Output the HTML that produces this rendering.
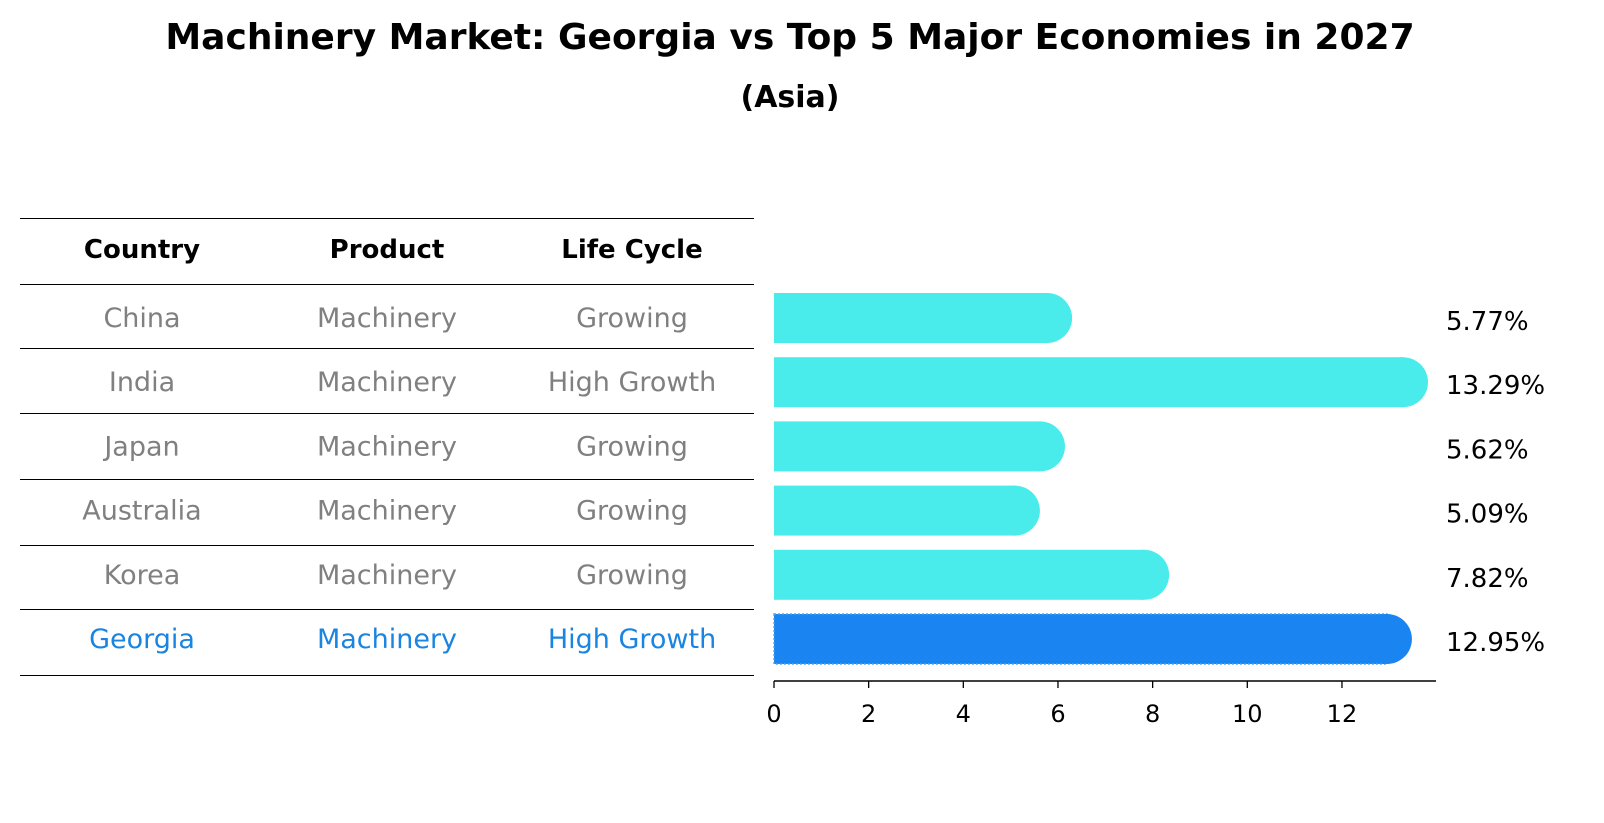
<!DOCTYPE html>
<html><head><meta charset="utf-8"><style>
body{margin:0;background:#fff;}
svg{display:block;font-family:"DejaVu Sans","Liberation Sans",sans-serif;}
</style></head><body>
<svg id="chart" width="1604" height="823" viewBox="0 0 1604 823">
<text x="790" y="49" text-anchor="middle" font-size="36" font-weight="bold">Machinery Market: Georgia vs Top 5 Major Economies in 2027</text>
<text x="790" y="107" text-anchor="middle" font-size="30" font-weight="bold">(Asia)</text>
<g id="table"></g>
<g id="bars"></g>
<g id="axis"></g>
</svg>
<script>
const countries=["China","India","Japan","Australia","Korea","Georgia"];
const products=["Machinery","Machinery","Machinery","Machinery","Machinery","Machinery"];
const lifeCycles=["Growing","High Growth","Growing","Growing","Growing","High Growth"];
const values=[5.77,13.29,5.62,5.09,7.82,12.95];
const ticks=[0,2,4,6,8,10,12];
const NS="http://www.w3.org/2000/svg";
function mk(t,a,p){const e=document.createElementNS(NS,t);for(const k in a)e.setAttribute(k,a[k]);p.appendChild(e);return e;}
const x=v=>774+v*47.33;
const rowY=i=>318+i*64.2;
const table=document.getElementById('table');
const lines=[218,284,348,413,479,545,609,675];
lines.forEach(y=>{const l=mk('line',{x1:20,x2:754,y1:y+0.5,y2:y+0.5,stroke:'#000','stroke-width':1},table);

});
const cols=[142,387,632];
["Country","Product","Life Cycle"].forEach((h,j)=>{const t=mk('text',{x:cols[j],y:258,'text-anchor':'middle','font-size':26,'font-weight':'bold'},table);t.textContent=h;

});
countries.forEach((c,i)=>{const col=c==="Georgia"?'#1a85e0':'#808080';
[c,products[i],lifeCycles[i]].forEach((v,j)=>{const t=mk('text',{x:cols[j],y:rowY(i)+9,'text-anchor':'middle','font-size':27,fill:col},table);t.textContent=v;

});});
const bars=document.getElementById('bars');
values.forEach((v,i)=>{const g=countries[i]==="Georgia";const col=g?'#1a85f0':'#4aeceb';const cy=rowY(i);const h=50;
const r=mk('rect',{x:x(0),y:cy-h/2,width:x(v)-x(0),height:h,fill:col},bars);
if(g){r.setAttribute('stroke','#4aa6f5');r.setAttribute('stroke-width','1.5');r.setAttribute('stroke-dasharray','2 2');}


const c=mk('circle',{cx:x(v),cy:cy,r:h/2,fill:col},bars);


const t=mk('text',{x:1446,y:cy+12,'font-size':26},bars);t.textContent=v.toFixed(2)+'%';

});
const axis=document.getElementById('axis');
const al=mk('line',{x1:774,x2:1436,y1:681,y2:681,stroke:'#000','stroke-width':1.5},axis);


ticks.forEach(v=>{const l=mk('line',{x1:x(v),x2:x(v),y1:681,y2:688,stroke:'#000','stroke-width':1.3},axis);


const t=mk('text',{x:x(v),y:722,'text-anchor':'middle','font-size':24},axis);t.textContent=v;

});
</script>
</body></html>
